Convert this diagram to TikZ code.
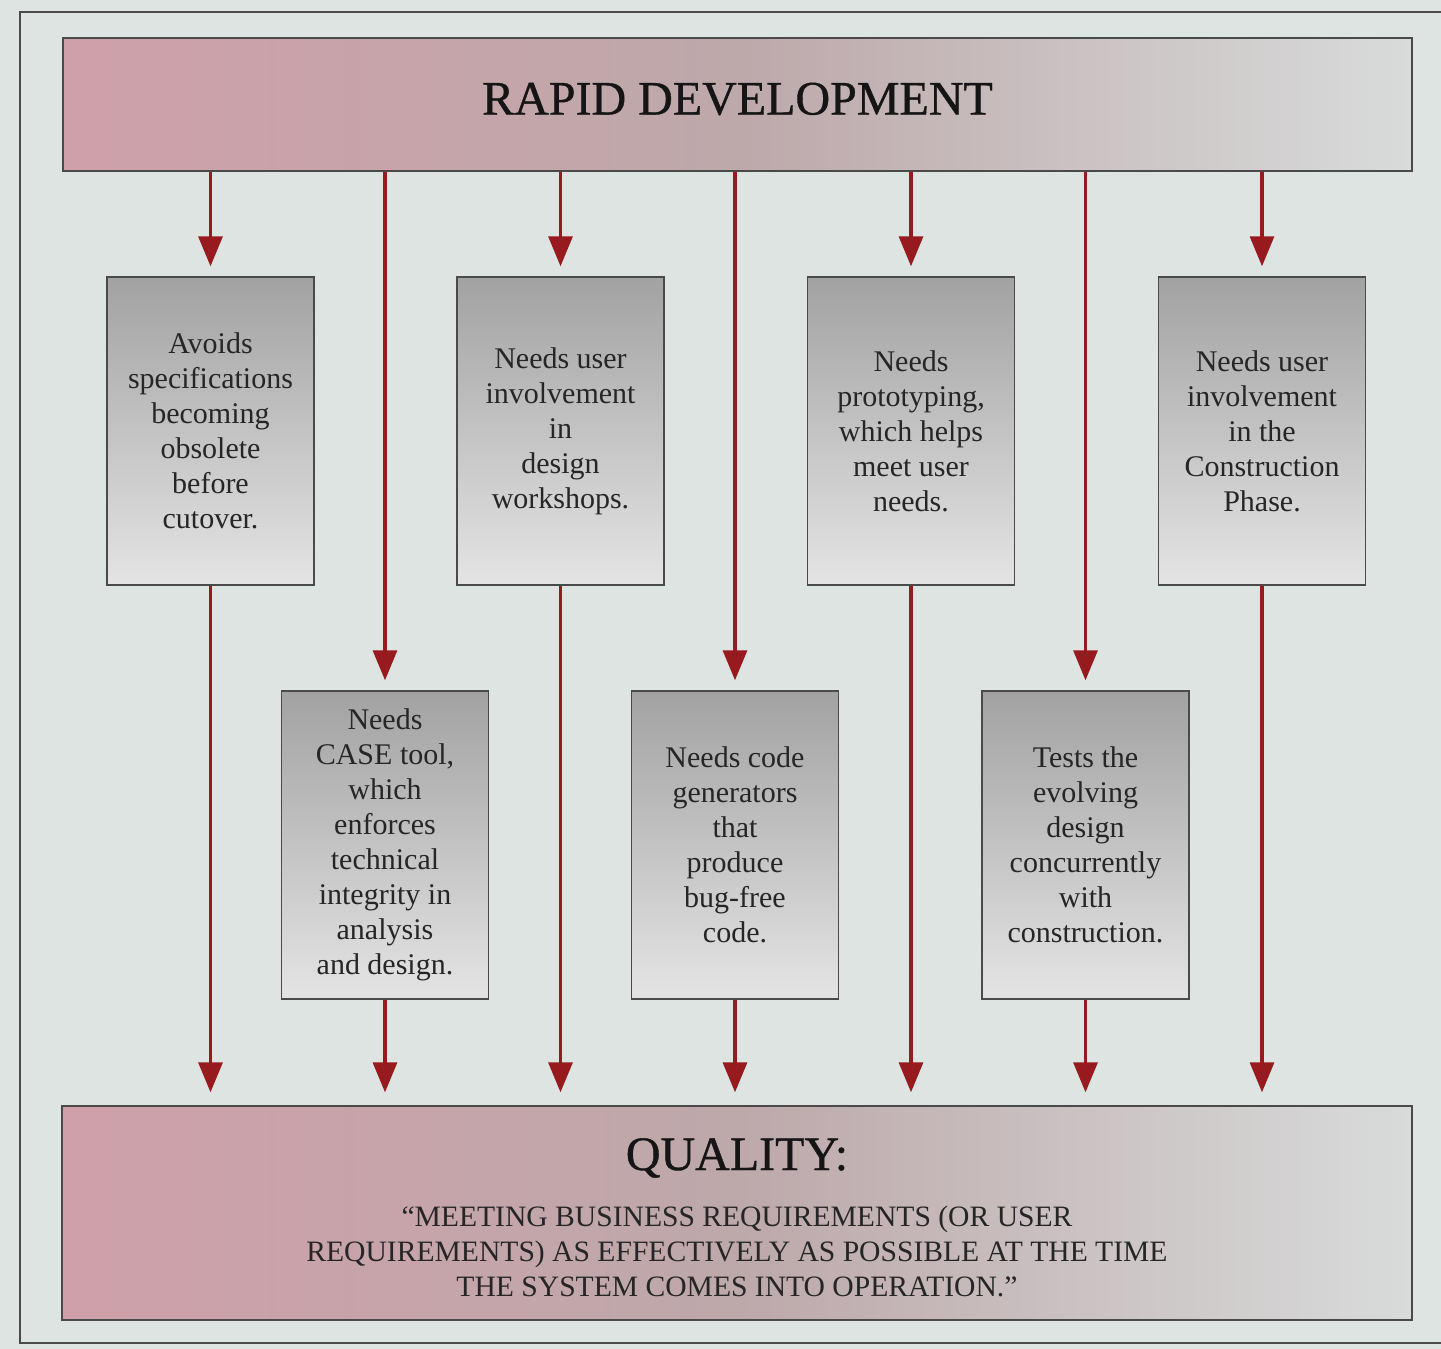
\documentclass[tikz,border=0pt]{standalone}
\usepackage{fontspec}
\setmainfont{Liberation Serif}
\usetikzlibrary{arrows.meta}
\definecolor{bg}{HTML}{DDE4E1}
\definecolor{frame}{HTML}{4A4A4A}
\definecolor{arrowred}{HTML}{961A1E}
\definecolor{bannerL}{HTML}{CFA0A9}
\definecolor{bannerM}{HTML}{BDA8AA}
\definecolor{bannerR}{HTML}{D8DBDA}
\definecolor{boxtop}{HTML}{A2A2A2}
\definecolor{boxbot}{HTML}{E4E4E4}
\definecolor{ink}{HTML}{262626}
\definecolor{titleink}{HTML}{151515}
\begin{document}
\begin{tikzpicture}[x=0.5pt,y=-0.5pt,
  banner/.style={draw=frame,line width=0.7pt,left color=bannerL,right color=bannerR,middle color=bannerM,inner sep=0pt},
  card/.style={draw=frame,line width=0.7pt,top color=boxtop,bottom color=boxbot,
    minimum width=103.5pt,minimum height=154pt,inner sep=0pt,align=center,
    text=ink,font=\fontsize{15}{17.5}\selectfont},
  title/.style={text=titleink,font=\fontsize{24}{28}\selectfont\addfontfeature{FakeBold=0.8}},
  arr/.style={draw=arrowred,line width=1.6pt,-{Triangle[width=12pt,length=15pt]}},
]
\useasboundingbox (0,0) rectangle (1441,1349);
\fill[bg] (0,0) rectangle (1441,1349);
\draw[frame,line width=0.7pt] (1441,12) -- (20,12) -- (20,1343) -- (1441,1343);

\node[banner,minimum width=674.5pt,minimum height=66.5pt] (rapid) at (737.5,104.5) {};
\node[title] (rapidtxt) at (737.5,99) {RAPID DEVELOPMENT};

\node[banner,minimum width=675pt,minimum height=107pt] (quality) at (737,1213) {};
\node[title] (qtitle) at (737,1158) {QUALITY:};
\node[text=ink,align=center,font=\fontsize{14.8}{17.5}\selectfont] (qtext) at (737,1251)
  {“MEETING BUSINESS REQUIREMENTS (OR USER\\REQUIREMENTS) AS EFFECTIVELY AS POSSIBLE AT THE TIME\\THE SYSTEM COMES INTO OPERATION.”};

\node[card] (b1) at (210.5,431) {Avoids\\specifications\\becoming\\obsolete\\before\\cutover.};
\node[card] (b3) at (560.5,431) {Needs user\\involvement\\in\\design\\workshops.};
\node[card] (b5) at (911,431) {Needs\\prototyping,\\which helps\\meet user\\needs.};
\node[card] (b7) at (1262,431) {Needs user\\involvement\\in the\\Construction\\Phase.};
\node[card] (b2) at (385,845) {Needs\\CASE tool,\\which\\enforces\\technical\\integrity in\\analysis\\and design.};
\node[card] (b4) at (735,845) {Needs code\\generators\\that\\produce\\bug-free\\code.};
\node[card] (b6) at (1085.5,845) {Tests the\\evolving\\design\\concurrently\\with\\construction.};

\foreach \b in {b1,b2,b3,b4,b5,b6,b7}{
  \draw[arr,shorten >=5pt] (rapid.south -| \b.north) -- (\b.north);
  \draw[arr,shorten >=6.5pt] (\b.south) -- (\b.south |- quality.north);
}
\end{tikzpicture}
\end{document}
